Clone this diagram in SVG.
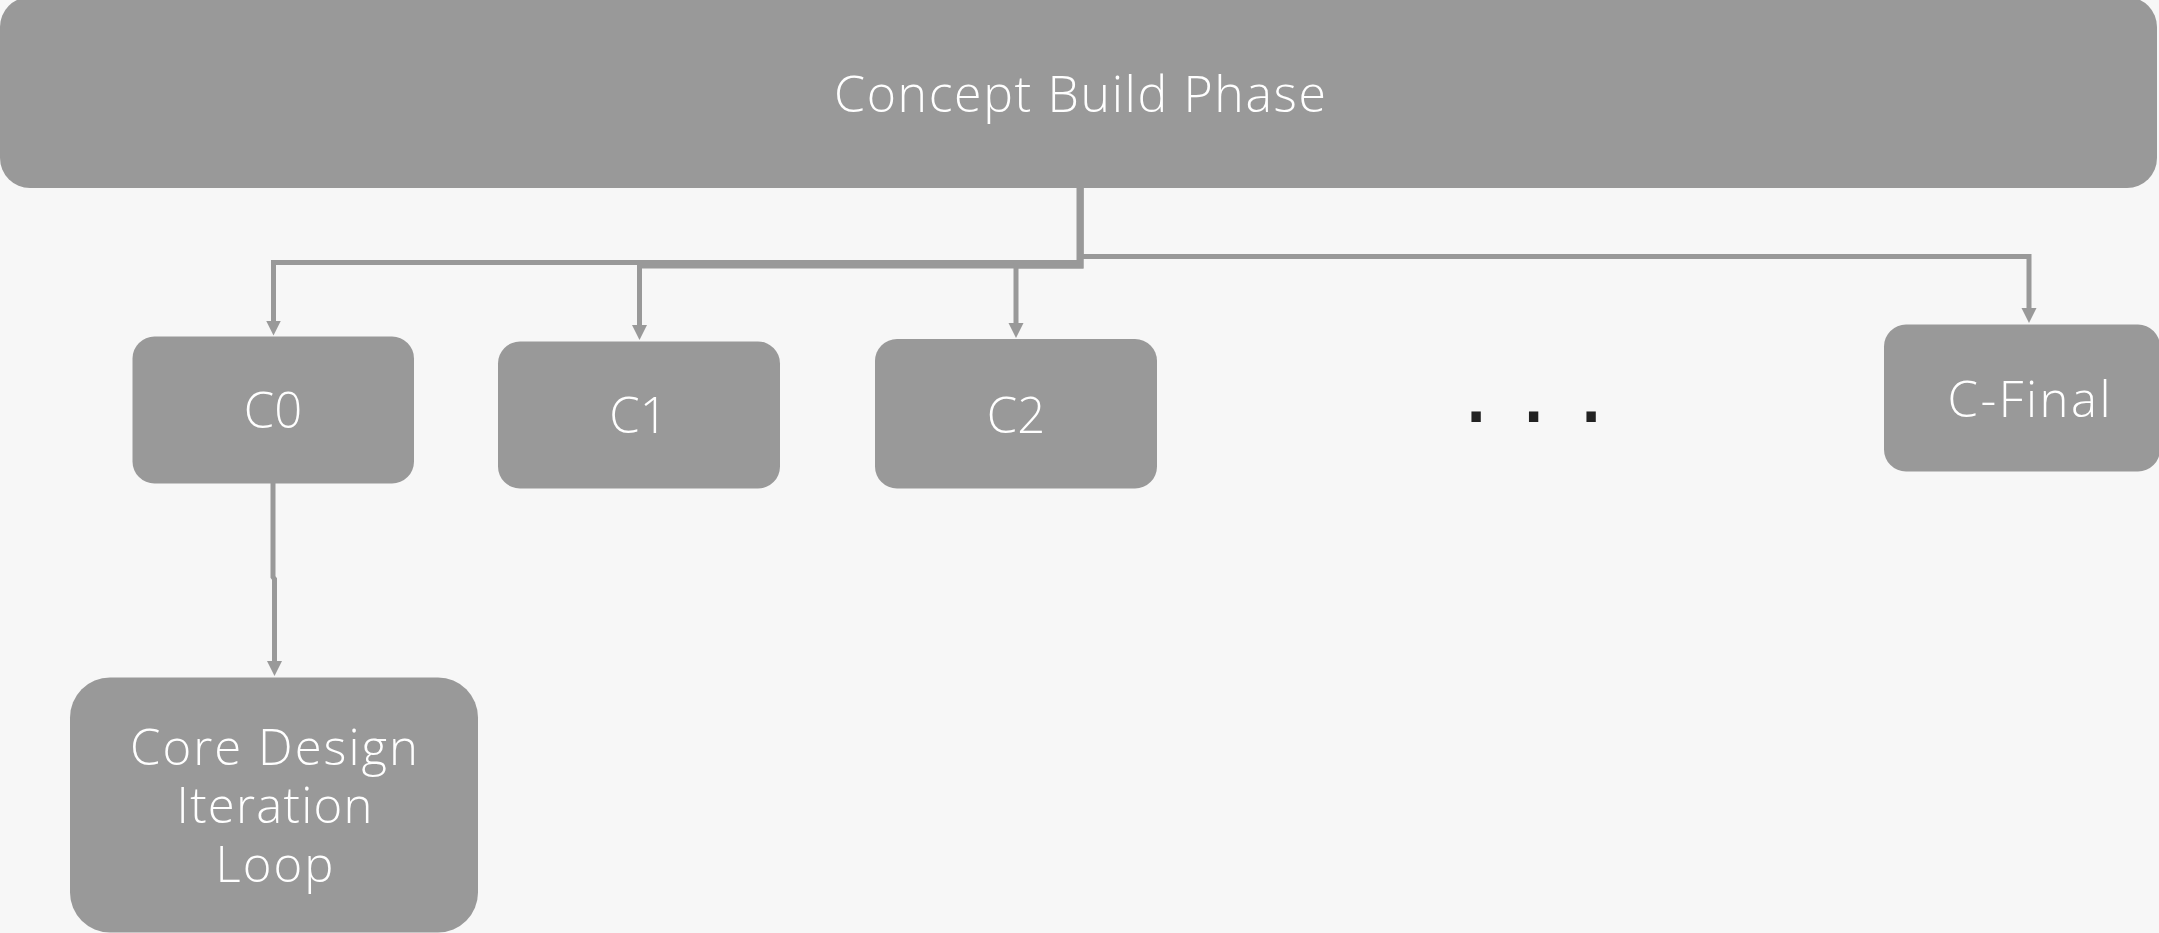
<svg xmlns="http://www.w3.org/2000/svg" width="2159" height="933" viewBox="0 0 2159 933">
  <style>
    .node { fill: #999999; }
    .label { font-family: "Open Sans", "Lato", "Liberation Sans", sans-serif; font-weight: 300; font-size: 49px; fill: #ffffff; text-anchor: middle; }
    .title { font-size: 50px; }
    .edge { fill: none; stroke: #999999; stroke-width: 5; stroke-linejoin: miter; stroke-linecap: butt; marker-end: url(#arrow); }
    .dots { font-family: "Liberation Sans", Arial, sans-serif; font-size: 98px; fill: #222222; text-anchor: middle; }
  </style>
  <defs>
    <marker id="arrow" markerUnits="userSpaceOnUse" markerWidth="16" markerHeight="16" refX="1" refY="7.5" orient="auto">
      <path d="M0,0 L15,7.5 L0,15 z" fill="#999999"/>
    </marker>
  </defs>

  <rect width="2159" height="933" fill="#f7f7f7"/>

  <!-- connectors -->
  <g id="connectors">
    <path class="edge" d="M1079,188 V262.5 H273.5 V321.5"/>
    <path class="edge" d="M1081,188 V266 H639.5 V326"/>
    <path class="edge" d="M1081,188 V266 H1016 V324"/>
    <path class="edge" d="M1081,188 V256.5 H2029 V309"/>
    <path class="edge" d="M273,483 V577 L274.5,579 V662"/>
  </g>

  <!-- phase header -->
  <g id="concept-build-phase">
    <rect class="node" x="0" y="-3" width="2157" height="191" rx="30"/>
    <text class="label title" x="1080" y="112" textLength="492" lengthAdjust="spacing">Concept Build Phase</text>
  </g>

  <g id="c0">
    <rect class="node" x="132.5" y="336.5" width="281.5" height="147" rx="22"/>
    <text class="label" x="273" y="428">C0</text>
  </g>

  <g id="c1">
    <rect class="node" x="498" y="341.5" width="282" height="147" rx="22"/>
    <text class="label" x="638.5" y="433">C1</text>
  </g>

  <g id="c2">
    <rect class="node" x="875" y="339" width="282" height="149.5" rx="22"/>
    <text class="label" x="1016" y="433">C2</text>
  </g>

  <g id="ellipsis">
    <text class="dots" x="1476 1504.75 1533.5 1562.25 1591" y="422">. . .</text>
  </g>

  <g id="c-final">
    <rect class="node" x="1884" y="324.5" width="276" height="147" rx="22"/>
    <text class="label" x="2029" y="417" textLength="163" lengthAdjust="spacing">C-Final</text>
  </g>

  <g id="core-design-loop">
    <rect class="node" x="70" y="677.5" width="408" height="255" rx="40"/>
    <text class="label" x="274" y="765" textLength="288" lengthAdjust="spacing">Core Design</text>
    <text class="label" x="274.5" y="823" textLength="196" lengthAdjust="spacing">Iteration</text>
    <text class="label" x="274.5" y="882" textLength="118" lengthAdjust="spacing">Loop</text>
  </g>
</svg>
